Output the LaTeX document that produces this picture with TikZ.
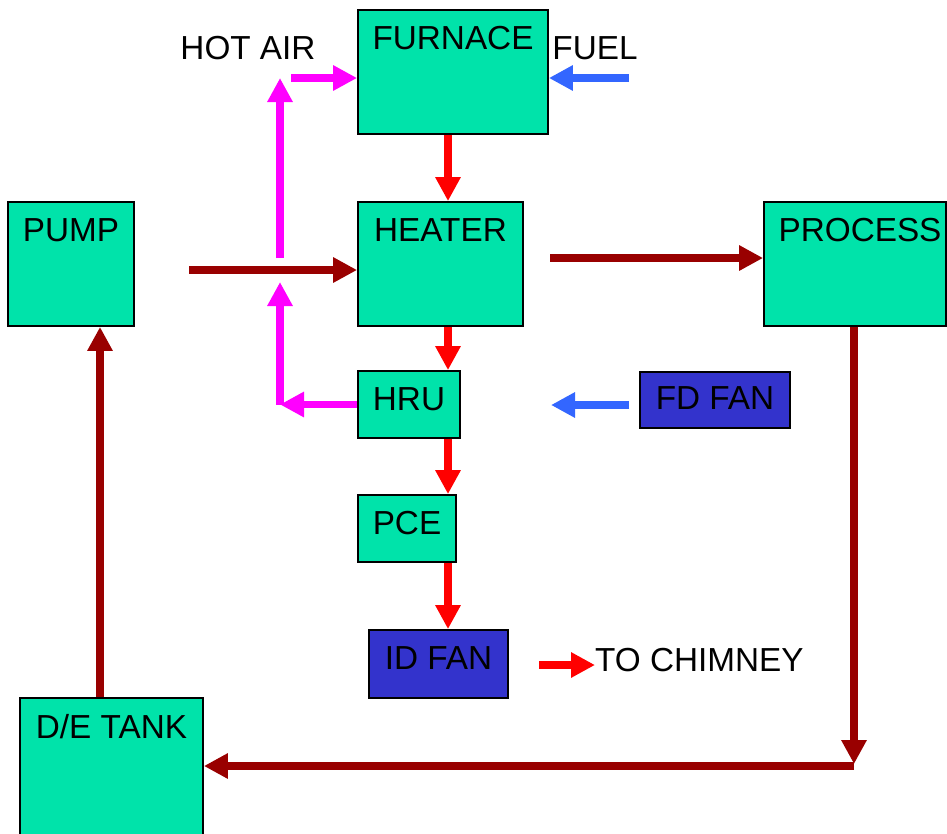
\documentclass[tikz,border=0pt]{standalone}
\usepackage{fontspec}
\setmainfont{Liberation Sans}
\usetikzlibrary{arrows.meta}
\definecolor{boxteal}{RGB}{0,227,170}
\definecolor{fanblue}{RGB}{51,51,204}
\definecolor{hotmag}{RGB}{255,0,255}
\definecolor{airblue}{RGB}{51,102,255}
\definecolor{waterred}{RGB}{153,0,0}
\definecolor{fluered}{RGB}{255,0,0}
\tikzset{
  bigfont/.style={font=\fontsize{33.3}{40}\selectfont},
  boxlbl/.style={anchor=north, inner sep=0pt, yshift=-17pt, bigfont},
  tealbox/.style={draw=black, line width=1.8pt, fill=boxteal, inner sep=0pt},
  fanbox/.style={draw=black, line width=1.8pt, fill=fanblue, inner sep=0pt},
  flow/.style={line width=7.5pt, -{Triangle[length=24pt,width=24pt]}},
  waterflow/.style={flow, draw=waterred, fill=waterred},
  flueflow/.style={flow, draw=fluered, fill=fluered},
  hotflow/.style={flow, draw=hotmag, fill=hotmag},
  airflow/.style={flow, draw=airblue, fill=airblue},
  plaintext/.style={inner sep=0pt, bigfont}
}
\begin{document}
\begin{tikzpicture}[x=1pt, y=-1pt]
\useasboundingbox (0,0) rectangle (947,833);
\clip (0,0) rectangle (947,833);
% boxes
\node[tealbox, minimum width=190pt, minimum height=124pt, label={[boxlbl]north:FURNACE}] (furnace) at (453,72) {};
\node[tealbox, minimum width=165pt, minimum height=124pt, label={[boxlbl]north:HEATER}] (heater) at (440.5,264) {};
\node[tealbox, minimum width=182pt, minimum height=124pt, label={[boxlbl,xshift=5pt]north:PROCESS}] (process) at (855,264) {};
\node[tealbox, minimum width=126pt, minimum height=124pt, label={[boxlbl]north:PUMP}] (pump) at (71,264) {};
\node[tealbox, minimum width=102pt, minimum height=67pt, label={[boxlbl]north:HRU}] (hru) at (409,404.5) {};
\node[tealbox, minimum width=98pt, minimum height=67pt, label={[boxlbl]north:PCE}] (pce) at (407,528.5) {};
\node[fanbox, minimum width=139pt, minimum height=68pt, label={[boxlbl]north:ID FAN}] (idfan) at (438.5,664) {};
\node[fanbox, minimum width=150pt, minimum height=56pt, label={[boxlbl,yshift=2pt]north:FD FAN}] (fdfan) at (715,400) {};
\node[tealbox, minimum width=183pt, minimum height=152pt, label={[boxlbl]north:D/E TANK}] (detank) at (111.5,774) {};
% free texts
\node[plaintext] (hotair) at (248,48) {HOT AIR};
\node[plaintext] (fuel) at (595,48) {FUEL};
\node[plaintext, anchor=west] (chimney) at (595,660) {TO CHIMNEY};
% helper coordinates
\coordinate (redx) at (448,0);
\coordinate (tankx) at (100,0);
\coordinate (mainT) at (189,270);
\coordinate (hpT) at (550,258);
\coordinate (haLow) at (280,258);
\coordinate (haTip) at (280,78);
\coordinate (haT) at (291,78);
\coordinate (fuelT) at (629,78);
\coordinate (hraCorner) at (280,404.5);
\coordinate (hraTip) at (280,282);
\coordinate (fdT) at (629,405);
\coordinate (fdTip) at (551,405);
\coordinate (chT) at (539,665);
\coordinate (pCorner) at (854,766);
\coordinate (pTip) at (854,764);
% flue gas path
\draw[flueflow] (furnace.south -| redx) -- (heater.north -| redx);
\draw[flueflow] (heater.south -| redx) -- (hru.north -| redx);
\draw[flueflow] (hru.south -| redx) -- (pce.north -| redx);
\draw[flueflow] (pce.south -| redx) -- (idfan.north -| redx);
\draw[flueflow] (chT) -- (chT -| chimney.west);
% air
\draw[airflow] (fuelT) -- (fuelT -| furnace.east);
\draw[airflow] (fdT) -- (fdTip);
\draw[hotflow] (haLow) -- (haTip);
\draw[hotflow] (haT) -- (haT -| furnace.west);
\draw[hotflow] (hru.west) -- (hraCorner);
\draw[hotflow] (hraCorner) -- (hraTip);
% water loop
\draw[waterflow] (mainT) -- (mainT -| heater.west);
\draw[waterflow] (hpT) -- (hpT -| process.west);
\draw[waterflow] (process.south -| pTip) -- (pTip);
\draw[waterflow] (pCorner) -- (pCorner -| detank.east);
\draw[waterflow] (detank.north -| tankx) -- (pump.south -| tankx);
\end{tikzpicture}
\end{document}
